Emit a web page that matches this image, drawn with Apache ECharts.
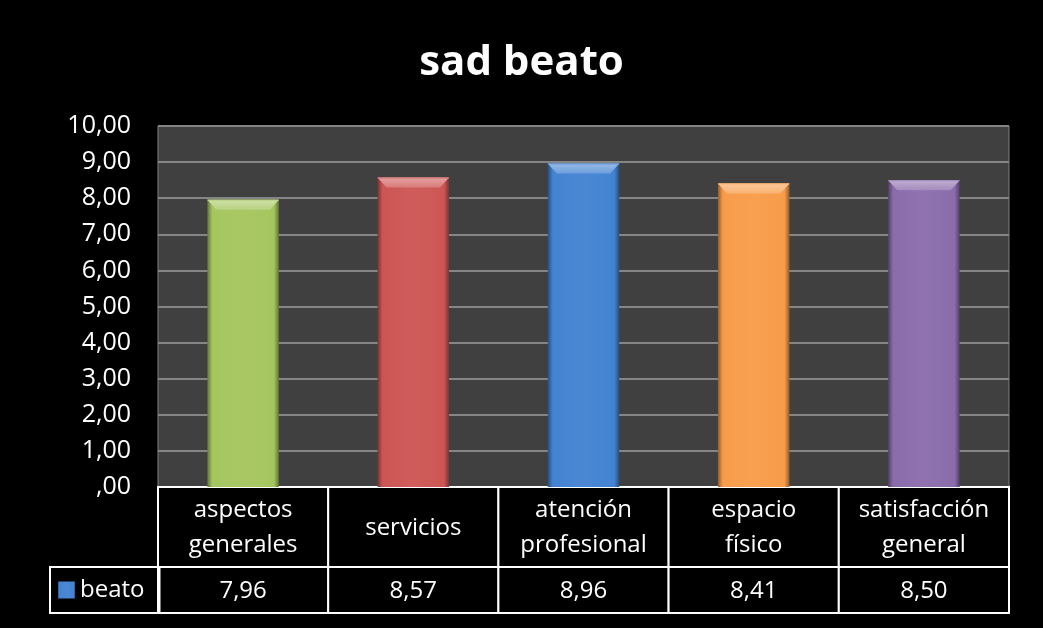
<!DOCTYPE html>
<html>
<head>
<meta charset="utf-8">
<script src="https://cdn.jsdelivr.net/npm/echarts@6/dist/echarts.min.js"></script>
<style>
html,body{margin:0;padding:0;background:#000;}
#chart{width:1043px;height:628px;}
</style>
</head>
<body>
<div id="chart"></div>
<script>
const title = 'sad beato';
const seriesName = 'beato';
const categories = ['aspectos\ngenerales', 'servicios', 'atención\nprofesional', 'espacio\nfísico', 'satisfacción\ngeneral'];
const values = [7.96, 8.57, 8.96, 8.41, 8.50];
const barColors = ['#a5c65f', '#cd5654', '#4383d2', '#f89c4a', '#8a6cac'];
const yMin = 0, yMax = 10, yStep = 1;

function fmt(v) {
  let s = v.toFixed(2).replace('.', ',');
  if (s.startsWith('0,')) s = s.slice(1);
  return s;
}
function shade(hex, f) {
  const n = parseInt(hex.slice(1), 16);
  let r = (n >> 16) & 255, g = (n >> 8) & 255, b = n & 255;
  const m = c => Math.max(0, Math.min(255, Math.round(f >= 0 ? c + (255 - c) * f : c * (1 + f))));
  return 'rgb(' + m(r) + ',' + m(g) + ',' + m(b) + ')';
}
function barGrad(hex) {
  return new echarts.graphic.LinearGradient(0, 0, 1, 0, [
    { offset: 0, color: shade(hex, -0.4) },
    { offset: 0.07, color: hex },
    { offset: 0.5, color: shade(hex, 0.04) },
    { offset: 0.93, color: hex },
    { offset: 1, color: shade(hex, -0.4) }
  ]);
}
const FONT = '"Open Sans", "DejaVu Sans", sans-serif';

const chart = echarts.init(document.getElementById('chart'));

function tableCell(getText, fontSize, lineHeight) {
  return function (params, api) {
    const idx = api.value(0);
    const x = api.coord([idx, 0])[0];
    const w = api.size([1, 0])[0];
    const cs = params.coordSys;
    return {
      type: 'group',
      children: [
        { type: 'rect', shape: { x: x - w / 2, y: cs.y, width: w, height: cs.height },
          style: { fill: '#000', stroke: '#fff', lineWidth: 2 } },
        { type: 'text', style: { text: getText(idx), x: x, y: cs.y + cs.height / 2 + 1,
          align: 'center', verticalAlign: 'middle', fill: '#fff',
          fontSize: fontSize, fontFamily: FONT, lineHeight: lineHeight } }
      ]
    };
  };
}

function bevel(params, api) {
  const idx = api.value(0);
  const top = api.coord([idx, api.value(1)]);
  const w = api.size([1, 0])[0] * 0.42;
  const x0 = top[0] - w / 2, x1 = top[0] + w / 2, y = top[1];
  const c = barColors[idx];
  return {
    type: 'group',
    children: [
      { type: 'polygon', shape: { points: [[x0, y], [x1, y], [x1 - 9, y + 10], [x0 + 9, y + 10]] },
        style: { fill: new echarts.graphic.LinearGradient(0, 0, 0, 1, [
          { offset: 0, color: shade(c, 0.45) }, { offset: 1, color: shade(c, 0.22) }]) } },
      { type: 'line', shape: { x1: x0, y1: y + 0.5, x2: x1, y2: y + 0.5 },
        style: { stroke: shade(c, 0.2), lineWidth: 1 } }
    ]
  };
}

const option = {
  backgroundColor: '#000',
  animation: false,
  title: {
    text: title, left: 'center', top: 37,
    textStyle: { color: '#fff', fontSize: 42, fontWeight: 'bold', fontFamily: FONT }
  },
  legend: {
    data: [{ name: seriesName, icon: 'rect' }],
    left: 50, top: 567,
    borderColor: '#fff', borderWidth: 2,
    padding: [11, 15, 11, 8],
    itemWidth: 17, itemHeight: 17, itemGap: 4,
    textStyle: { color: '#fff', fontSize: 24, fontFamily: FONT }
  },
  grid: [
    { left: 158, right: 34, top: 126, height: 361, show: true, backgroundColor: '#404040', borderColor: '#808080', borderWidth: 1 },
    { left: 158, right: 34, top: 487, height: 80 },
    { left: 158, right: 34, top: 567, height: 46 }
  ],
  xAxis: [0, 1, 2].map(i => ({
    type: 'category', gridIndex: i, data: categories,
    axisLine: { show: false }, axisTick: { show: false }, axisLabel: { show: false }, splitLine: { show: false }
  })),
  yAxis: [
    { type: 'value', gridIndex: 0, min: yMin, max: yMax, interval: yStep,
      axisLine: { show: false }, axisTick: { show: false },
      splitLine: { lineStyle: { color: '#858585', width: 2 } },
      axisLabel: { color: '#fff', fontSize: 25, fontFamily: FONT, margin: 27, formatter: fmt } },
    { type: 'value', gridIndex: 1, min: 0, max: 1, show: false },
    { type: 'value', gridIndex: 2, min: 0, max: 1, show: false }
  ],
  series: [
    {
      name: seriesName, type: 'bar', xAxisIndex: 0, yAxisIndex: 0,
      barWidth: '42%',
      itemStyle: { color: barGrad(barColors[2]) },
      data: values.map((v, i) => ({ value: v, itemStyle: { color: barGrad(barColors[i]) } }))
    },
    {
      name: 'bevel', type: 'custom', xAxisIndex: 0, yAxisIndex: 0, z: 3,
      renderItem: bevel, silent: true,
      data: values.map((v, i) => [i, v])
    },
    {
      name: 'header', type: 'custom', xAxisIndex: 1, yAxisIndex: 1,
      renderItem: tableCell(i => categories[i], 24, 35),
      data: categories.map((c, i) => [i, 0])
    },
    {
      name: 'values', type: 'custom', xAxisIndex: 2, yAxisIndex: 2,
      renderItem: tableCell(i => fmt(values[i]), 24, 30),
      data: values.map((v, i) => [i, 0])
    }
  ]
};
chart.setOption(option);
</script>
</body>
</html>
